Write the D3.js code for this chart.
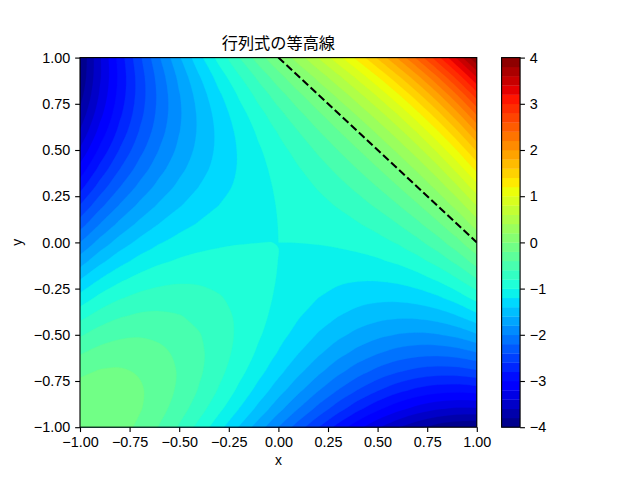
<!DOCTYPE html>
<html><head><meta charset="utf-8">
<script src="https://cdn.jsdelivr.net/npm/d3@7"></script>
<style>html,body{margin:0;padding:0;background:#fff}svg{display:block}
text{font-family:"Liberation Sans",sans-serif;fill:#000}
.cjk{font-family:"Noto Sans CJK JP",sans-serif}</style></head>
<body><div id="c"></div>
<script>
const titleText="行列式の等高線", xLabel="x", yLabel="y";
const xTicks=[-1,-0.75,-0.5,-0.25,0,0.25,0.5,0.75,1];
const yTicks=[-1,-0.75,-0.5,-0.25,0,0.25,0.5,0.75,1];
const cbTicks=[-4,-3,-2,-1,0,1,2,3,4];
const levels=[-4,-3.8,-3.6,-3.4,-3.2,-3,-2.8,-2.6,-2.4,-2.2,-2,-1.8,-1.6,-1.4,-1.2,-1,-0.8,-0.6,-0.4,-0.2,0,0.2,0.4,0.6,0.8,1,1.2,1.4,1.6,1.8,2,2.2,2.4,2.6,2.8,3,3.2,3.4,3.6,3.8,4];
const gridX=[-1,-0.9,-0.8,-0.7,-0.6,-0.5,-0.4,-0.3,-0.2,-0.1,-0.03,0,0.03,0.1,0.2,0.3,0.4,0.5,0.6,0.7,0.8,0.9,1];
const gridY=[-1,-0.9,-0.8,-0.7,-0.6,-0.5,-0.4,-0.3,-0.2,-0.1,-0.03,0,0.03,0.1,0.2,0.3,0.4,0.5,0.6,0.7,0.8,0.9,1];
const lineX=[0,1], lineY=[1,0];
// surface values, one row per gridY entry (bottom to top)
const surface=[
[0,-.029,-.112,-.243,-.416,-.625,-.864,-1.127,-1.408,-1.701,-1.91,-2,-2.09,-2.299,-2.592,-2.873,-3.136,-3.375,-3.584,-3.757,-3.888,-3.971,-4],
[-.029,-.028,-.081,-.182,-.325,-.504,-.713,-.946,-1.197,-1.46,-1.648,-1.729,-1.81,-1.998,-2.261,-2.512,-2.745,-2.954,-3.133,-3.276,-3.377,-3.43,-3.429],
[-.112,-.081,-.104,-.175,-.288,-.437,-.616,-.819,-1.04,-1.273,-1.44,-1.512,-1.584,-1.751,-1.984,-2.205,-2.408,-2.587,-2.736,-2.849,-2.92,-2.943,-2.912],
[-.243,-.182,-.175,-.216,-.299,-.418,-.567,-.74,-.931,-1.134,-1.28,-1.343,-1.406,-1.552,-1.755,-1.946,-2.119,-2.268,-2.387,-2.47,-2.511,-2.504,-2.443],
[-.416,-.325,-.288,-.299,-.352,-.441,-.56,-.703,-.864,-1.037,-1.162,-1.216,-1.27,-1.395,-1.568,-1.729,-1.872,-1.991,-2.08,-2.133,-2.144,-2.107,-2.016],
[-.625,-.504,-.437,-.418,-.441,-.5,-.589,-.702,-.833,-.976,-1.08,-1.125,-1.17,-1.274,-1.417,-1.548,-1.661,-1.75,-1.809,-1.832,-1.813,-1.746,-1.625],
[-.864,-.713,-.616,-.567,-.56,-.589,-.648,-.731,-.832,-.945,-1.028,-1.064,-1.1,-1.183,-1.296,-1.397,-1.48,-1.539,-1.568,-1.561,-1.512,-1.415,-1.264],
[-1.127,-.946,-.819,-.74,-.703,-.702,-.731,-.784,-.855,-.938,-1.00003,-1.027,-1.054,-1.116,-1.199,-1.27,-1.323,-1.352,-1.351,-1.314,-1.235,-1.108,-.927],
[-1.408,-1.197,-1.04,-.931,-.864,-.833,-.832,-.855,-.896,-.949,-.99003,-1.008,-1.026,-1.067,-1.12,-1.161,-1.184,-1.183,-1.152,-1.085,-.976,-.819,-.608],
[-1.701,-1.46,-1.273,-1.134,-1.037,-.976,-.945,-.938,-.949,-.972,-.99203,-1.001,-1.00997,-1.03,-1.053,-1.064,-1.057,-1.026,-.965,-.868,-.729,-.542,-.301],
[-1.91,-1.648,-1.44,-1.28,-1.162,-1.08,-1.028,-1.00003,-.99003,-.99203,-.99735,-1.00003,-1.0027,-1.00803,-1.01003,-1.00003,-.97203,-.92,-.838,-.72,-.56,-.352,-.09],
[-2,-1.729,-1.512,-1.343,-1.216,-1.125,-1.064,-1.027,-1.008,-1.001,-1.00003,-1,-.99997,-.999,-.992,-.973,-.936,-.875,-.784,-.657,-.488,-.271,0],
[-2.09,-1.81,-1.584,-1.406,-1.27,-1.17,-1.1,-1.054,-1.026,-1.00997,-1.0027,-.99997,-.99725,-.98997,-.974,-.946,-.9,-.83,-.73,-.594,-.416,-.19,.09],
[-2.299,-1.998,-1.751,-1.552,-1.395,-1.274,-1.183,-1.116,-1.067,-1.03,-1.00803,-.999,-.98997,-.968,-.931,-.882,-.815,-.724,-.603,-.446,-.247,0,.301],
[-2.592,-2.261,-1.984,-1.755,-1.568,-1.417,-1.296,-1.199,-1.12,-1.053,-1.01003,-.992,-.974,-.931,-.864,-.785,-.688,-.567,-.416,-.229,0,.277,.608],
[-2.873,-2.512,-2.205,-1.946,-1.729,-1.548,-1.397,-1.27,-1.161,-1.064,-1.00003,-.973,-.946,-.882,-.785,-.676,-.549,-.398,-.217,0,.259,.566,.927],
[-3.136,-2.745,-2.408,-2.119,-1.872,-1.661,-1.48,-1.323,-1.184,-1.057,-.97203,-.936,-.9,-.815,-.688,-.549,-.392,-.211,0,.247,.536,.873,1.264],
[-3.375,-2.954,-2.587,-2.268,-1.991,-1.75,-1.539,-1.352,-1.183,-1.026,-.92,-.875,-.83,-.724,-.567,-.398,-.211,0,.241,.518,.837,1.204,1.625],
[-3.584,-3.133,-2.736,-2.387,-2.08,-1.809,-1.568,-1.351,-1.152,-.965,-.838,-.784,-.73,-.603,-.416,-.217,0,.241,.512,.819,1.168,1.565,2.016],
[-3.757,-3.276,-2.849,-2.47,-2.133,-1.832,-1.561,-1.314,-1.085,-.868,-.72,-.657,-.594,-.446,-.229,0,.247,.518,.819,1.156,1.535,1.962,2.443],
[-3.888,-3.377,-2.92,-2.511,-2.144,-1.813,-1.512,-1.235,-.976,-.729,-.56,-.488,-.416,-.247,0,.259,.536,.837,1.168,1.535,1.944,2.401,2.912],
[-3.971,-3.43,-2.943,-2.504,-2.107,-1.746,-1.415,-1.108,-.819,-.542,-.352,-.271,-.19,0,.277,.566,.873,1.204,1.565,1.962,2.401,2.888,3.429],
[-4,-3.429,-2.912,-2.443,-2.016,-1.625,-1.264,-.927,-.608,-.301,-.09,0,.09,.301,.608,.927,1.264,1.625,2.016,2.443,2.912,3.429,4]
];

const W=640,H=480;
const L=80,R=476.8,T=57.6,B=427.2;
const CL=501.6,CR=520.08;

const jetR=d3.scaleLinear().domain([0,.35,.66,.89,1]).range([0,0,1,1,.5]);
const jetG=d3.scaleLinear().domain([0,.125,.375,.64,.91,1]).range([0,0,1,1,0,0]);
const jetB=d3.scaleLinear().domain([0,.11,.34,.65,1]).range([.5,1,1,0,0]);
const norm=d3.scaleLinear().domain([levels[0],levels[levels.length-1]]).range([0,1]);
const jet=v=>{const t=norm(v);return d3.rgb(jetR(t)*255,jetG(t)*255,jetB(t)*255).formatHex();};
const bandColor=i=>jet((levels[i]+levels[i+1])/2);

const x=d3.scaleLinear().domain([-1,1]).range([L,R]);
const y=d3.scaleLinear().domain([-1,1]).range([B,T]);
const cy=d3.scaleLinear().domain([levels[0],levels[levels.length-1]]).range([B,T]);

const svg=d3.select("#c").append("svg").attr("width",W).attr("height",H).attr("viewBox",`0 0 ${W} ${H}`);
svg.append("defs").append("clipPath").attr("id","plot").append("rect")
  .attr("x",L).attr("y",T).attr("width",R-L).attr("height",B-T);

const nx=gridX.length, ny=gridY.length;
const flat=surface.flat();
// contour coordinates put grid node i at i+0.5
const gx=d3.scaleLinear().domain(gridX.map((d,i)=>i+0.5)).range(gridX.map(d=>x(d)));
const gy=d3.scaleLinear().domain(gridY.map((d,i)=>i+0.5)).range(gridY.map(d=>y(d)));
const contours=d3.contours().size([nx,ny]).smooth(true).thresholds(levels.slice(0,-1))(flat);

const openSpline=d3.line().curve(d3.curveCatmullRom.alpha(0.5));
const closedSpline=d3.line().curve(d3.curveCatmullRomClosed.alpha(0.5));
function ringPath(ring){
  const raw=ring.slice(0,-1);
  const isIn=p=>p[0]>=0.5&&p[0]<=nx-0.5&&p[1]>=0.5&&p[1]<=ny-0.5;
  const pts=raw.map(p=>[gx(p[0]),gy(p[1])]);
  const first=raw.findIndex(p=>!isIn(p));
  if(first<0) return closedSpline(pts);
  let d="M"+pts[first].join(","), run=[];
  const flush=()=>{
    if(run.length>1) d+="L"+openSpline(run).slice(1);
    else if(run.length===1) d+="L"+run[0].join(",");
    run=[];
  };
  for(let k=1;k<=raw.length;k++){
    const i=(first+k)%raw.length;
    if(isIn(raw[i])) run.push(pts[i]);
    else {flush(); d+="L"+pts[i].join(",");}
  }
  flush();
  return d+"Z";
}
const contourPath=c=>c.coordinates.map(poly=>poly.map(ringPath).join("")).join("");

const plot=svg.append("g").attr("clip-path","url(#plot)");
plot.append("rect").attr("x",L).attr("y",T).attr("width",R-L).attr("height",B-T).attr("fill",bandColor(0));
plot.selectAll("path.band").data(contours).join("path").attr("class","band")
  .attr("d",contourPath).attr("fill-rule","evenodd")
  .attr("fill",(d,i)=>bandColor(i)).attr("stroke",(d,i)=>bandColor(i)).attr("stroke-width",0.3);
plot.append("path").attr("d",d3.line().x(d=>x(d[0])).y(d=>y(d[1]))(d3.zip(lineX,lineY)))
  .attr("fill","none").attr("stroke","#000").attr("stroke-width",2.08).attr("stroke-dasharray","7.7,3.3");

const fmt=d=>d3.format(".2f")(d).replace("-","−");
function styleAxis(g,fs){
  g.select(".domain").remove();
  g.selectAll(".tick line").attr("stroke","#000").attr("stroke-width",1.11);
  g.selectAll(".tick text").style("font-size",fs+"px");
}
svg.append("g").attr("transform",`translate(0,${B})`)
  .call(d3.axisBottom(x).tickValues(xTicks).tickFormat(fmt).tickSize(4.86).tickPadding(4.86))
  .call(g=>styleAxis(g,14.4));
svg.append("g").attr("transform",`translate(${L},0)`)
  .call(d3.axisLeft(y).tickValues(yTicks).tickFormat(fmt).tickSize(4.86).tickPadding(4.86))
  .call(g=>styleAxis(g,14.4));
svg.append("rect").attr("x",L).attr("y",T).attr("width",R-L).attr("height",B-T)
  .attr("fill","none").attr("stroke","#000").attr("stroke-width",1.11);

svg.append("text").attr("class","cjk").attr("x",(L+R)/2).attr("y",49).attr("text-anchor","middle").style("font-size","16.2px").text(titleText);
svg.append("text").attr("x",(L+R)/2).attr("y",465).attr("text-anchor","middle").style("font-size","13.9px").text(xLabel);
svg.append("text").attr("transform",`translate(22,${(T+B)/2}) rotate(-90)`).attr("text-anchor","middle").style("font-size","13.9px").text(yLabel);

// colorbar
svg.append("g").selectAll("rect").data(d3.pairs(levels)).join("rect")
  .attr("x",CL).attr("width",CR-CL)
  .attr("y",d=>cy(d[1])).attr("height",d=>cy(d[0])-cy(d[1])+0.3)
  .attr("fill",d=>jet((d[0]+d[1])/2));
svg.append("g").attr("transform",`translate(${CR},0)`)
  .call(d3.axisRight(cy).tickValues(cbTicks).tickFormat(d=>String(d).replace("-","−")).tickSize(4.86).tickPadding(4.86))
  .call(g=>styleAxis(g,14.4));
svg.append("rect").attr("x",CL).attr("y",T).attr("width",CR-CL).attr("height",B-T)
  .attr("fill","none").attr("stroke","#000").attr("stroke-width",1.11);
</script></body></html>
